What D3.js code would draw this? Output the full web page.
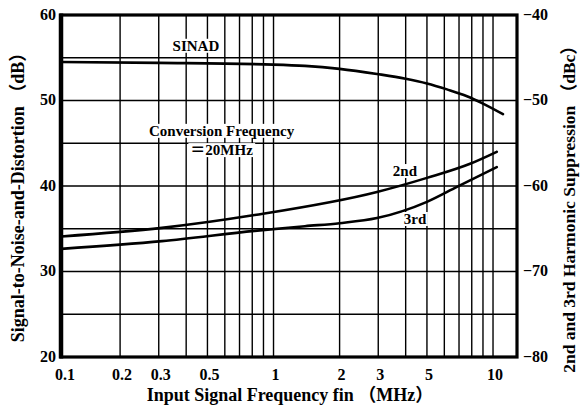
<!DOCTYPE html>
<html>
<head>
<meta charset="utf-8">
<script src="https://cdn.jsdelivr.net/npm/d3@7"></script>
<style>
  html, body { margin: 0; padding: 0; background: #fff; }
  svg { display: block; }
  text { font-family: "Liberation Serif", "Times New Roman", "Noto Sans CJK JP", serif; fill: #000; }
</style>
</head>
<body>
<svg id="chart" width="585" height="408"></svg>
<script>
// ---- data ----
const sinadFreq  = [0.108, 0.3, 1.0, 1.39, 2.0, 2.96, 4.0, 5.0, 6.17, 7.61, 8.91, 11.1];
const sinadDb    = [54.5, 54.4, 54.2, 54.05, 53.7, 53.1, 52.55, 52.0, 51.3, 50.5, 49.7, 48.4];

const h2Freq     = [0.108, 0.31, 0.82, 2.96, 5.0, 7.86, 10.4];
const h2Dbc      = [-65.9, -64.9, -63.4, -60.7, -59.05, -57.4, -56.0];

const h3Freq     = [0.108, 0.31, 0.82, 1.39, 2.0, 2.96, 5.0, 6.85, 10.4];
const h3Dbc      = [-67.35, -66.45, -65.25, -64.7, -64.35, -63.75, -61.85, -60.1, -57.8];

const xTickValues = [0.1, 0.2, 0.3, 0.5, 1, 2, 3, 5, 10];
const xTickLabels = ["0.1", "0.2", "0.3", "0.5", "1", "2", "3", "5", "10"];
const xGridValues = [0.2,0.3,0.4,0.5,0.6,0.7,0.8,0.9,1,2,3,4,5,6,7,8,9,10];
const yLeftTicks  = [20, 30, 40, 50, 60];
const yGridValues = [25, 30, 35, 40, 45, 50, 55];
const yRightTicks = [-40, -50, -60, -70, -80];

const W = 585, H = 408;
const margin = { left: 61, right: 68, top: 15, bottom: 51 };
const svg = d3.select("#chart");

const x = d3.scaleLog().domain([0.1076, 12.86]).range([margin.left, W - margin.right]).clamp(true);
const yL = d3.scaleLinear().domain([20, 60]).range([H - margin.bottom, margin.top]);
const yR = d3.scaleLinear().domain([-80, -40]).range([H - margin.bottom, margin.top]);

const x0 = margin.left, x1 = W - margin.right, y0 = margin.top, y1 = H - margin.bottom;

// grid
const grid = svg.append("g").attr("stroke", "#000").attr("stroke-width", 1.4);
grid.selectAll("line.v").data(xGridValues).join("line")
  .attr("x1", d => x(d)).attr("x2", d => x(d)).attr("y1", y0).attr("y2", y1);
grid.selectAll("line.h").data(yGridValues).join("line")
  .attr("y1", d => yL(d)).attr("y2", d => yL(d)).attr("x1", x0).attr("x2", x1);

// curves
const curveLayer = svg.append("g").attr("fill", "none").attr("stroke", "#000").attr("stroke-width", 2.6)
  .attr("stroke-linecap", "round");
const lineL = d3.line().x(d => x(d[0])).y(d => yL(d[1])).curve(d3.curveMonotoneX);
const lineR = d3.line().x(d => x(d[0])).y(d => yR(d[1])).curve(d3.curveMonotoneX);
curveLayer.append("path").attr("d", lineL(d3.zip(sinadFreq, sinadDb)));
curveLayer.append("path").attr("d", lineR(d3.zip(h2Freq, h2Dbc)));
curveLayer.append("path").attr("d", lineR(d3.zip(h3Freq, h3Dbc)));

// labels inside plot with white backgrounds
function boxedLabel(txt, cx, cy, size, pad) {
  const g = svg.append("g");
  const t = g.append("text").attr("x", cx).attr("y", cy).attr("text-anchor", "middle")
    .attr("dominant-baseline", "central").attr("font-size", size).attr("font-weight", "bold").text(txt);
  const b = t.node().getBBox();
  g.insert("rect", "text").attr("x", b.x - pad).attr("y", b.y + 1).attr("width", b.width + 2 * pad)
    .attr("height", b.height - 2).attr("fill", "#fff");
}
boxedLabel("SINAD", x(0.443), yL(56.4), 15, 2);
boxedLabel("Conversion Frequency", x(0.58), yL(46.45), 15, 2);
boxedLabel("＝20MHz", x(0.58), yL(44.2), 15, 2);
boxedLabel("2nd", x(3.97), yR(-58.25), 15, 1);
boxedLabel("3rd", x(4.41), yR(-63.86), 15, 1);

// frame
svg.append("rect").attr("x", x0).attr("y", y0).attr("width", x1 - x0).attr("height", y1 - y0)
  .attr("fill", "none").attr("stroke", "#000").attr("stroke-width", 3.2);
svg.append("line").attr("x1", x0).attr("x2", x0).attr("y1", y0 - 1.5).attr("y2", y1 + 1.5)
  .attr("stroke", "#000").attr("stroke-width", 4.5);

// x axis labels
svg.append("g").selectAll("text").data(xTickValues).join("text")
  .attr("x", d => x(d) + (d === 0.1 ? 4 : 2)).attr("y", y1 + 23)
  .attr("text-anchor", "middle").attr("font-size", 16).attr("font-weight", "bold")
  .text((d, i) => xTickLabels[i]);

// left axis labels
svg.append("g").selectAll("text").data(yLeftTicks).join("text")
  .attr("x", x0 - 5).attr("y", d => yL(d)).attr("dy", "0.3em")
  .attr("text-anchor", "end").attr("font-size", 16).attr("font-weight", "bold")
  .text(d => d);

// right axis labels
svg.append("g").selectAll("text").data(yRightTicks).join("text")
  .attr("x", x1 + 6).attr("y", d => yR(d)).attr("dy", "0.3em")
  .attr("text-anchor", "start").attr("font-size", 16).attr("font-weight", "bold")
  .text(d => "−" + Math.abs(d));

// axis titles
svg.append("text").attr("x", 290).attr("y", 401).attr("text-anchor", "middle")
  .attr("font-size", 18).attr("font-weight", "bold").text("Input Signal Frequency  fin （MHz）");
svg.append("text").attr("transform", "translate(24,193) rotate(-90)").attr("text-anchor", "middle")
  .attr("font-size", 18).attr("font-weight", "bold").text("Signal-to-Noise-and-Distortion （dB）");
svg.append("text").attr("transform", "translate(575,205) rotate(-90)").attr("text-anchor", "middle")
  .attr("font-size", 17.5).attr("font-weight", "bold").text("2nd and 3rd Harmonic Suppression （dBc）");
</script>
</body>
</html>
